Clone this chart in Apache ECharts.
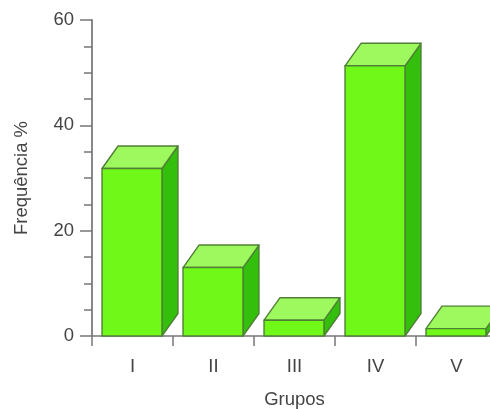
<!DOCTYPE html>
<html>
<head>
<meta charset="utf-8">
<style>
html,body{margin:0;padding:0;background:#fff;overflow:hidden}
#c{width:490px;height:409px;filter:blur(0.6px)}
</style>
<script src="https://cdn.jsdelivr.net/npm/echarts@6/dist/echarts.min.js"></script>
</head>
<body>
<div id="c"></div>
<script>
const categories = ['I', 'II', 'III', 'IV', 'V'];
const frequencies = [31.8, 13, 3, 51.3, 1.4];
const yTicks = { min: 0, max: 60, interval: 20 };
const faceColor = '#70f918';
const topColor = '#9ef95e';
const sideColor = '#33bf0b';
const edgeColor = '#4f8036';
const textColor = '#444444';
const axisColor = '#777777';
const labelFont = { fontFamily: 'Liberation Sans', fontSize: 18.5, color: textColor };

const chart = echarts.init(document.getElementById('c'), null, { renderer: 'canvas' });

function renderBox(params, api) {
  const base = api.coord([api.value(0), 0]);
  const top = api.coord([api.value(0), api.value(1)]);
  const band = api.size([1, 0])[0];
  const w = band * 0.74;
  const dx = 16, dy = 22.5;
  const xL = base[0] - w / 2 - 0.5, xR = xL + w, yB = base[1], yT = top[1];
  const style = c => ({ fill: c, stroke: edgeColor, lineWidth: 1.4, lineJoin: 'round' });
  return {
    type: 'group',
    children: [
      { type: 'polygon', shape: { points: [[xR, yB], [xR + dx, yB - dy], [xR + dx, yT - dy], [xR, yT]] }, style: style(sideColor) },
      { type: 'polygon', shape: { points: [[xL, yT], [xL + dx, yT - dy], [xR + dx, yT - dy], [xR, yT]] }, style: style(topColor) },
      { type: 'rect', shape: { x: xL, y: yT, width: w, height: yB - yT }, style: style(faceColor) }
    ]
  };
}

chart.setOption({
  animation: false,
  backgroundColor: '#ffffff',
  grid: { left: 92, top: 20, width: 405, height: 316, containLabel: false, outerBoundsMode: 'none' },
  xAxis: {
    type: 'category',
    data: categories,
    boundaryGap: true,
    name: 'Grupos',
    nameLocation: 'middle',
    nameGap: 54,
    nameTextStyle: labelFont,
    axisLine: { show: true, lineStyle: { color: axisColor, width: 1.5 } },
    axisTick: { show: true, length: 10, alignWithLabel: false, lineStyle: { color: axisColor, width: 1.5 } },
    axisLabel: Object.assign({ margin: 21 }, labelFont),
    splitLine: { show: false }
  },
  yAxis: {
    type: 'value',
    min: yTicks.min,
    max: yTicks.max,
    interval: yTicks.interval,
    name: 'Frequência %',
    nameLocation: 'middle',
    nameGap: 61,
    nameRotate: 90,
    nameTextStyle: labelFont,
    axisLine: { show: true, lineStyle: { color: '#888888', width: 2 } },
    axisTick: { show: true, length: 12, lineStyle: { color: axisColor, width: 1.5 } },
    minorTick: { show: true, splitNumber: 4, length: 8, lineStyle: { color: axisColor, width: 1.5 } },
    axisLabel: Object.assign({ margin: 18 }, labelFont),
    splitLine: { show: false }
  },
  series: [{
    type: 'custom',
    clip: false,
    renderItem: renderBox,
    encode: { x: 0, y: 1 },
    data: categories.map((c, i) => [i, frequencies[i]])
  }]
});
</script>
</body>
</html>
